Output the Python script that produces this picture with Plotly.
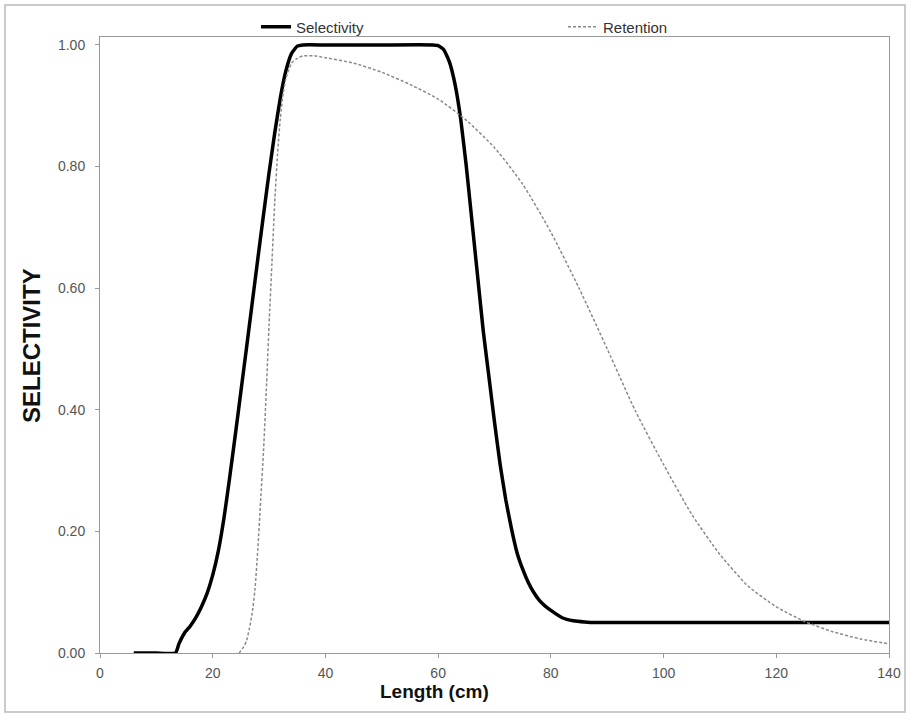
import plotly.graph_objects as go

# Selectivity curve (solid black)
sel_x = [6, 10, 13.4, 14, 15, 16, 17, 18, 19, 20, 21, 22, 23, 24, 25, 26, 27, 28, 29, 30,
         31, 32, 33, 34, 35, 36, 40, 50, 59, 60, 61, 62, 63, 64, 65, 66, 67, 68, 69, 70, 71, 72,
         73, 74, 75, 76, 77, 78, 79, 80, 82, 84, 86, 88, 140]
sel_y = [0, 0, 0, 0.015, 0.033, 0.044, 0.058, 0.076, 0.098, 0.128, 0.168, 0.222, 0.288, 0.358,
         0.43, 0.502, 0.575, 0.648, 0.72, 0.79, 0.855, 0.913, 0.958, 0.986, 0.998, 1.0, 1.0,
         1.0, 1.0, 0.999, 0.992, 0.972, 0.935, 0.878, 0.80, 0.71, 0.62, 0.53, 0.455, 0.38,
         0.31, 0.252, 0.205, 0.165, 0.138, 0.116, 0.099, 0.086, 0.077, 0.07, 0.058, 0.053,
         0.051, 0.05, 0.05]

# Retention curve (dashed grey)
ret_x = [24.7, 25, 25.5, 26, 26.5, 27, 27.5, 28, 28.5, 29, 29.5, 30, 30.5, 31, 31.5, 32, 32.5,
         33, 34, 35, 36, 38, 40, 45, 50, 55, 60, 65, 70, 75, 80, 85, 90, 95, 100, 105, 110,
         115, 120, 125, 130, 135, 140]
ret_y = [0, 0.004, 0.01, 0.02, 0.04, 0.065, 0.105, 0.17, 0.25, 0.33, 0.43, 0.54, 0.64, 0.74,
         0.82, 0.88, 0.92, 0.945, 0.97, 0.978, 0.982, 0.982, 0.979, 0.97, 0.955, 0.935, 0.911,
         0.876, 0.831, 0.771, 0.692, 0.6, 0.50, 0.398, 0.31, 0.228, 0.162, 0.11, 0.076,
         0.052, 0.035, 0.023, 0.015]

x_ticks = [0, 20, 40, 60, 80, 100, 120, 140]
y_ticks = [0.0, 0.2, 0.4, 0.6, 0.8, 1.0]

W, H = 909, 715
L, R, T, B = 100, 20, 37, 62
pw, ph = W - L - R, H - T - B
FONT = "Liberation Sans, Arial, sans-serif"

fig = go.Figure()
fig.add_trace(go.Scatter(x=sel_x, y=sel_y, mode="lines", name="Selectivity",
                         line=dict(color="black", width=3.5, shape="spline", smoothing=0.4)))
fig.add_trace(go.Scatter(x=ret_x, y=ret_y, mode="lines", name="Retention",
                         line=dict(color="#8a8a8a", width=1.5, dash="3px,2px",
                                   shape="spline", smoothing=0.6)))

axis_common = dict(showgrid=False, zeroline=False, showline=True, linecolor="#999999",
                   linewidth=1, mirror=True, ticks="outside", ticklen=4, tickcolor="#999999",
                   automargin=False,
                   tickfont=dict(family=FONT, size=14, color="#555555"))

fig.update_xaxes(range=[0, 140], tickvals=x_ticks, ticktext=[str(v) for v in x_ticks],
                 ticklabelstandoff=3, **axis_common)
fig.update_yaxes(range=[0, 1.013], tickvals=y_ticks, ticktext=[f"{v:.2f}" for v in y_ticks],
                 ticklabelstandoff=7, **axis_common)

fig.add_annotation(text="<b>SELECTIVITY</b>", xref="paper", yref="paper",
                   x=(31 - L) / pw, y=(H - B - 346) / ph, textangle=-90, showarrow=False,
                   xanchor="center", yanchor="middle",
                   font=dict(family=FONT, size=24, color="#111111"))
fig.add_annotation(text="<b>Length (cm)</b>", xref="paper", yref="paper",
                   x=(434 - L) / pw, y=(H - B - 691) / ph, showarrow=False,
                   xanchor="center", yanchor="middle",
                   font=dict(family=FONT, size=19, color="#111111"))

# outer frame around the picture
fig.add_shape(type="rect", xref="paper", yref="paper",
              x0=(5 - L) / pw, x1=(905 - L) / pw,
              y0=(H - B - 712) / ph, y1=(H - B - 5) / ph,
              line=dict(color="#bbbbbb", width=1.5))

fig.update_layout(
    width=W, height=H,
    margin=dict(l=L, r=R, t=T, b=B, autoexpand=False),
    plot_bgcolor="white", paper_bgcolor="white",
    showlegend=True,
    legend=dict(orientation="h", x=(256 - L) / pw, xanchor="left",
                y=1 + (T - 27) / ph, yanchor="middle",
                entrywidth=262, entrywidthmode="pixels",
                font=dict(family=FONT, size=15, color="#333333"),
                bgcolor="rgba(0,0,0,0)", borderwidth=0, tracegroupgap=0, itemwidth=30),
)

fig.write_html("out.html", config={"displayModeBar": False},
               post_script="document.body.style.margin='0';")
